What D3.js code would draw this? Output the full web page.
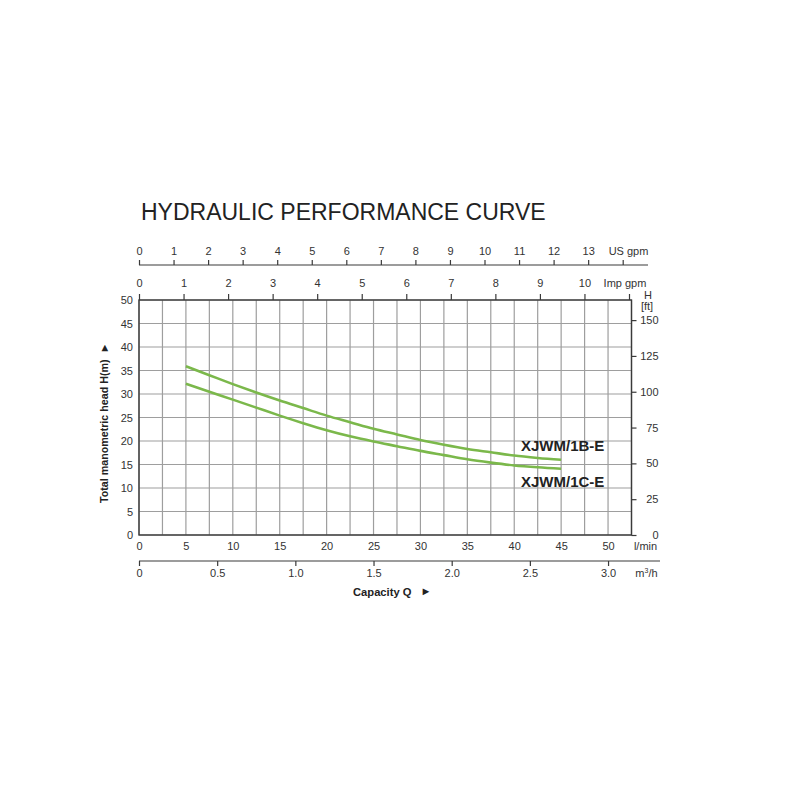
<!DOCTYPE html>
<html><head><meta charset="utf-8">
<script src="https://cdn.jsdelivr.net/npm/d3@7"></script>
<style>
html,body{margin:0;padding:0;background:#fff;}
svg{display:block;font-family:"Liberation Sans",Arial,sans-serif;}
</style></head>
<body>
<svg id="c" width="800" height="800"></svg>
<script>
// ---- data ----
const flowLmin = [5, 7.5, 10, 12.5, 15, 17.5, 20, 22.5, 25, 27.5, 30, 32.5, 35, 37.5, 40, 42.5, 45];
const headB = [35.9, 34.0, 32.1, 30.3, 28.6, 27.0, 25.4, 24.0, 22.6, 21.4, 20.2, 19.2, 18.3, 17.6, 16.9, 16.4, 16.0];
const headC = [32.2, 30.5, 28.8, 27.1, 25.4, 23.8, 22.3, 21.0, 19.9, 18.9, 17.9, 17.0, 16.1, 15.4, 14.8, 14.4, 14.1];
const seriesNames = ["XJWM/1B-E", "XJWM/1C-E"];
const lminTicks = [0, 5, 10, 15, 20, 25, 30, 35, 40, 45, 50];
const m3hTicks = [0, 0.5, 1.0, 1.5, 2.0, 2.5, 3.0];
const usGpmTicks = [0, 1, 2, 3, 4, 5, 6, 7, 8, 9, 10, 11, 12, 13, 14];
const impGpmTicks = [0, 1, 2, 3, 4, 5, 6, 7, 8, 9, 10, 11];
const headMTicks = [0, 5, 10, 15, 20, 25, 30, 35, 40, 45, 50];
const headFtTicks = [0, 25, 50, 75, 100, 125, 150];
const title = "HYDRAULIC PERFORMANCE CURVE";

// ---- layout ----
const L = 139, R = 631.5, T = 300, B = 535;
const svg = d3.select("#c");
const txt = "#333";

const x = d3.scaleLinear().domain([0, 52.5]).range([L, R]);
const y = d3.scaleLinear().domain([0, 50]).range([B, T]);
const yFt = d3.scaleLinear().domain([0, 50 / 0.3048]).range([B, T]);
const xM3 = d3.scaleLinear().domain([0, 52.5 * 60 / 1000]).range([L, R]);
const xUS = d3.scaleLinear().domain([0, 14]).range([L, 622.7]);
const xImp = d3.scaleLinear().domain([0, 11]).range([L, 629]);

// title
svg.append("text").attr("x", 141).attr("y", 220).attr("font-size", 23)
  .attr("fill", "#222").text(title);

// grid
const grid = svg.append("g");
grid.selectAll("line.v").data(d3.range(0, 52.5 + 0.001, 2.5)).join("line")
  .attr("x1", d => x(d)).attr("x2", d => x(d)).attr("y1", y(0)).attr("y2", y(50))
  .attr("stroke", "#9e9e9e").attr("stroke-width", 1.2);
grid.selectAll("line.h").data(headMTicks).join("line")
  .attr("x1", x(0)).attr("x2", x(52.5)).attr("y1", d => y(d)).attr("y2", d => y(d))
  .attr("stroke", "#9e9e9e").attr("stroke-width", 1.2);

// border
svg.append("rect").attr("x", L).attr("y", T).attr("width", R - L).attr("height", B - T)
  .attr("fill", "none").attr("stroke", "#3a3a3a").attr("stroke-width", 1.4);

function styleAxis(g, fs) {
  g.selectAll("text").attr("fill", txt).attr("font-size", fs || 11).attr("font-family", "Liberation Sans, Arial, sans-serif");
  g.selectAll("line").attr("stroke", "#3a3a3a").attr("stroke-width", 1.2);
  g.select(".domain").remove();
}

// US gpm axis
const usY = 265;
const gUS = svg.append("g").attr("transform", `translate(0,${usY})`)
  .call(d3.axisTop(xUS).tickValues(usGpmTicks).tickSize(5).tickPadding(5.4)
    .tickFormat(d => d === 14 ? "" : d));
styleAxis(gUS);
svg.append("line").attr("x1", xUS(0)).attr("x2", 648).attr("y1", usY).attr("y2", usY)
  .attr("stroke", "#3a3a3a").attr("stroke-width", 1.2);
svg.append("text").attr("x", 628.5).attr("y", 254.6).attr("text-anchor", "middle")
  .attr("font-size", 11).attr("fill", txt).text("US gpm");

// Imp gpm axis (top border)
const gImp = svg.append("g").attr("transform", `translate(0,${T})`)
  .call(d3.axisTop(xImp).tickValues(impGpmTicks).tickSize(6).tickPadding(6.8)
    .tickFormat(d => d === 11 ? "" : d));
styleAxis(gImp);
svg.append("text").attr("x", 625).attr("y", 287.2).attr("text-anchor", "middle")
  .attr("font-size", 11).attr("fill", txt).text("Imp gpm");

// l/min axis (bottom)
const gL = svg.append("g").attr("transform", `translate(0,${B})`)
  .call(d3.axisBottom(x).tickValues(lminTicks).tickSize(0).tickPadding(7.2));
styleAxis(gL);
svg.append("text").attr("x", 645.5).attr("y", 550).attr("text-anchor", "middle")
  .attr("font-size", 11).attr("fill", txt).text("l/min");

// m3/h axis
const m3Y = 561;
const gM = svg.append("g").attr("transform", `translate(0,${m3Y})`)
  .call(d3.axisBottom(xM3).tickValues(m3hTicks).tickSize(5).tickPadding(3.4)
    .tickFormat(d => d === 0 ? "0" : d.toFixed(1)));
styleAxis(gM);
svg.append("line").attr("x1", xM3(0)).attr("x2", 660).attr("y1", m3Y).attr("y2", m3Y)
  .attr("stroke", "#3a3a3a").attr("stroke-width", 1.2);
const m3lab = svg.append("text").attr("x", 646.5).attr("y", 577.2).attr("text-anchor", "middle")
  .attr("font-size", 11).attr("fill", txt);
m3lab.append("tspan").text("m");
m3lab.append("tspan").attr("font-size", 7).attr("dy", -4).text("3");
m3lab.append("tspan").attr("dy", 4).text("/h");

// left axis (m)
const gLeft = svg.append("g").attr("transform", `translate(${L},0)`)
  .call(d3.axisLeft(y).tickValues(headMTicks).tickSize(0).tickPadding(6));
styleAxis(gLeft);

// right axis (ft)
const gRight = svg.append("g").attr("transform", `translate(${R},0)`)
  .call(d3.axisRight(yFt).tickValues(headFtTicks).tickSize(5).tickPadding(4));
styleAxis(gRight);
gRight.selectAll("text").attr("text-anchor", "end").attr("x", 27);
svg.append("text").attr("x", 648).attr("y", 299).attr("text-anchor", "middle")
  .attr("font-size", 11).attr("fill", txt).text("H");
svg.append("text").attr("x", 647).attr("y", 310).attr("text-anchor", "middle")
  .attr("font-size", 11).attr("fill", txt).text("[ft]");

// axis titles
const yt = svg.append("text").attr("transform", "translate(108,503) rotate(-90)")
  .attr("text-anchor", "start").attr("font-size", 10.7).attr("font-weight", "bold")
  .attr("fill", "#222");
yt.append("tspan").text("Total manometric head H(m)");
yt.append("tspan").attr("dx", 6).attr("dy", -0.5).attr("font-size", 11).text("\u25BA");
const xt = svg.append("text").attr("x", 353).attr("y", 595.5)
  .attr("text-anchor", "start").attr("font-size", 11.2).attr("font-weight", "bold")
  .attr("fill", "#222");
xt.append("tspan").text("Capacity Q");
xt.append("tspan").attr("dx", 9).attr("dy", -0.5).attr("font-size", 11).text("\u25BA");

// curves
const line = d3.line().x(d => x(d[0])).y(d => y(d[1])).curve(d3.curveMonotoneX);
[headB, headC].forEach(h => {
  svg.append("path").datum(flowLmin.map((f, i) => [f, h[i]]))
    .attr("d", line).attr("fill", "none").attr("stroke", "#7bb84b")
    .attr("stroke-width", 2.6).attr("stroke-linecap", "butt");
});

// series labels
svg.append("text").attr("x", 521).attr("y", 451).attr("font-size", 15)
  .attr("font-weight", "bold").attr("fill", "#222").text(seriesNames[0]);
svg.append("text").attr("x", 521).attr("y", 487).attr("font-size", 15)
  .attr("font-weight", "bold").attr("fill", "#222").text(seriesNames[1]);
</script>
</body></html>
